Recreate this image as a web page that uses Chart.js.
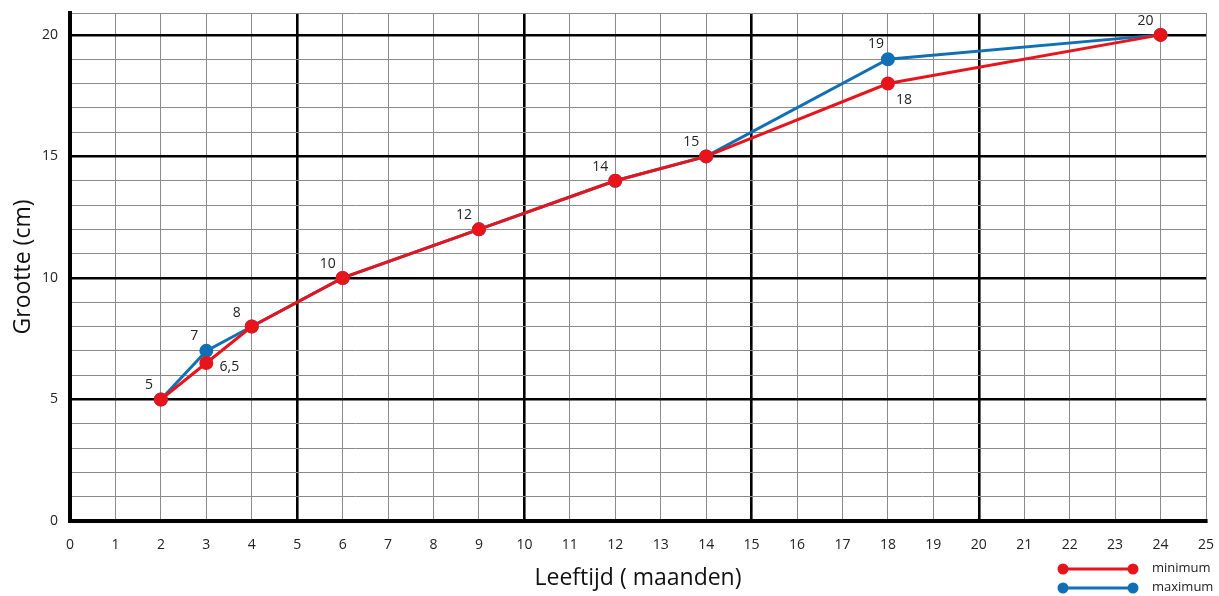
<!DOCTYPE html>
<html>
<head>
<meta charset="utf-8">
<script src="https://cdn.jsdelivr.net/npm/chart.js@4"></script>
<style>
  html, body { margin: 0; padding: 0; background: #fff; }
  #wrap { width: 1219px; height: 596px; }
</style>
</head>
<body>
<div id="wrap"><canvas id="myChart"></canvas></div>
<script>
const months = [2, 3, 4, 6, 9, 12, 14, 18, 24];
const minimum = [5, 6.5, 8, 10, 12, 14, 15, 18, 20];
const maximum = [5, 7, 8, 10, 12, 14, 15, 19, 20];
const xTicks = [0, 1, 2, 3, 4, 5, 6, 7, 8, 9, 10, 11, 12, 13, 14, 15, 16, 17, 18, 19, 20, 21, 22, 23, 24, 25];
const yTicks = [0, 5, 10, 15, 20];

const RED = "#e8141c";
const BLUE = "#1170b5";
const FONT = "'Open Sans', sans-serif";

const fmt = v => String(v).replace(".", ",");

function gridStyle(v, isLast) {
  if (isLast) return { c: "#8a8a8a", w: 1 };
  if (v % 5 === 0) return { c: "#000", w: 2.6 };
  return { c: "#8a8a8a", w: 1 };
}

const pointLabels = {
  id: "pointLabels",
  afterDatasetsDraw(chart) {
    const ctx = chart.ctx;
    const blueMeta = chart.getDatasetMeta(0);
    const redMeta = chart.getDatasetMeta(1);
    ctx.save();
    ctx.font = "14px " + FONT;
    ctx.fillStyle = "#222";
    ctx.textAlign = "center";
    ctx.textBaseline = "middle";
    months.forEach((m, i) => {
      const r = redMeta.data[i];
      const b = blueMeta.data[i];
      if (maximum[i] > minimum[i]) {
        ctx.fillText(fmt(maximum[i]), b.x - 12, b.y - 15);
        if (String(minimum[i]).length > 2) ctx.fillText(fmt(minimum[i]), r.x + 23, r.y + 4);
        else ctx.fillText(fmt(minimum[i]), r.x + 16, r.y + 17);
      } else {
        const dx = i === 0 ? -12 : -15;
        ctx.fillText(fmt(minimum[i]), r.x + dx, r.y - 14);
      }
    });
    ctx.restore();
  }
};

const cornerLegend = {
  id: "cornerLegend",
  afterDraw(chart) {
    const ctx = chart.ctx;
    const items = [["minimum", RED, 569], ["maximum", BLUE, 588]];
    ctx.save();
    items.forEach(([txt, col, y]) => {
      ctx.strokeStyle = col;
      ctx.fillStyle = col;
      ctx.lineWidth = 3;
      ctx.beginPath();
      ctx.moveTo(1063, y);
      ctx.lineTo(1133, y);
      ctx.stroke();
      [1063, 1133].forEach(x => {
        ctx.beginPath();
        ctx.arc(x, y, 5.5, 0, Math.PI * 2);
        ctx.fill();
      });
      ctx.fillStyle = "#222";
      ctx.font = "13px " + FONT;
      ctx.textAlign = "left";
      ctx.textBaseline = "middle";
      ctx.fillText(txt, 1152, y - 1);
    });
    ctx.restore();
  }
};

new Chart(document.getElementById("myChart"), {
  type: "line",
  data: {
    datasets: [
      {
        label: "maximum",
        data: months.map((m, i) => ({ x: m, y: maximum[i] })),
        borderColor: BLUE,
        backgroundColor: BLUE,
        borderWidth: 3,
        pointRadius: 5.5,
        pointHoverRadius: 5.5,
        tension: 0,
        order: 2
      },
      {
        label: "minimum",
        data: months.map((m, i) => ({ x: m, y: minimum[i] })),
        borderColor: RED,
        backgroundColor: RED,
        borderWidth: 3,
        pointRadius: 5.5,
        pointHoverRadius: 5.5,
        tension: 0,
        order: 1
      }
    ]
  },
  options: {
    responsive: true,
    maintainAspectRatio: false,
    animation: false,
    layout: { padding: { top: 13, right: 13, left: 0, bottom: 0 } },
    plugins: {
      legend: { display: false },
      tooltip: { enabled: false }
    },
    scales: {
      x: {
        type: "linear",
        min: 0,
        max: 25,
        afterBuildTicks: s => { s.ticks = xTicks.map(v => ({ value: v })); },
        afterFit: s => { s.height = 75; s.paddingLeft = 0; s.paddingRight = 0; },
        ticks: {
          autoSkip: false,
          maxRotation: 0,
          padding: 16,
          color: "#222",
          font: { family: FONT, size: 14 }
        },
        grid: {
          drawTicks: false,
          color: c => gridStyle(c.tick.value, c.tick.value === 25).c,
          lineWidth: c => gridStyle(c.tick.value, c.tick.value === 25).w
        },
        border: { display: true, color: "#000", width: 4 },
        title: {
          display: true,
          text: "Leeftijd ( maanden)",
          color: "#111",
          font: { family: FONT, size: 23 },
          padding: { top: 0 }
        }
      },
      y: {
        type: "linear",
        min: 0,
        max: 20.9,
        afterBuildTicks: s => {
          const t = [];
          for (let v = 0; v <= 20; v++) t.push({ value: v });
          t.push({ value: 20.9 });
          s.ticks = t;
        },
        afterFit: s => { s.width = 70; s.paddingTop = 0; s.paddingBottom = 0; },
        ticks: {
          autoSkip: false,
          padding: 12,
          color: "#222",
          font: { family: FONT, size: 14 },
          callback: v => (yTicks.includes(v) ? String(v) : "")
        },
        grid: {
          drawTicks: false,
          color: c => gridStyle(c.tick.value, c.tick.value === 20.9).c,
          lineWidth: c => gridStyle(c.tick.value, c.tick.value === 20.9).w
        },
        border: { display: true, color: "#000", width: 4 },
        title: {
          display: true,
          text: "Grootte (cm)",
          color: "#111",
          font: { family: FONT, size: 23 },
          padding: { top: 10, bottom: 0 }
        }
      }
    }
  },
  plugins: [pointLabels, cornerLegend]
});
</script>
</body>
</html>
